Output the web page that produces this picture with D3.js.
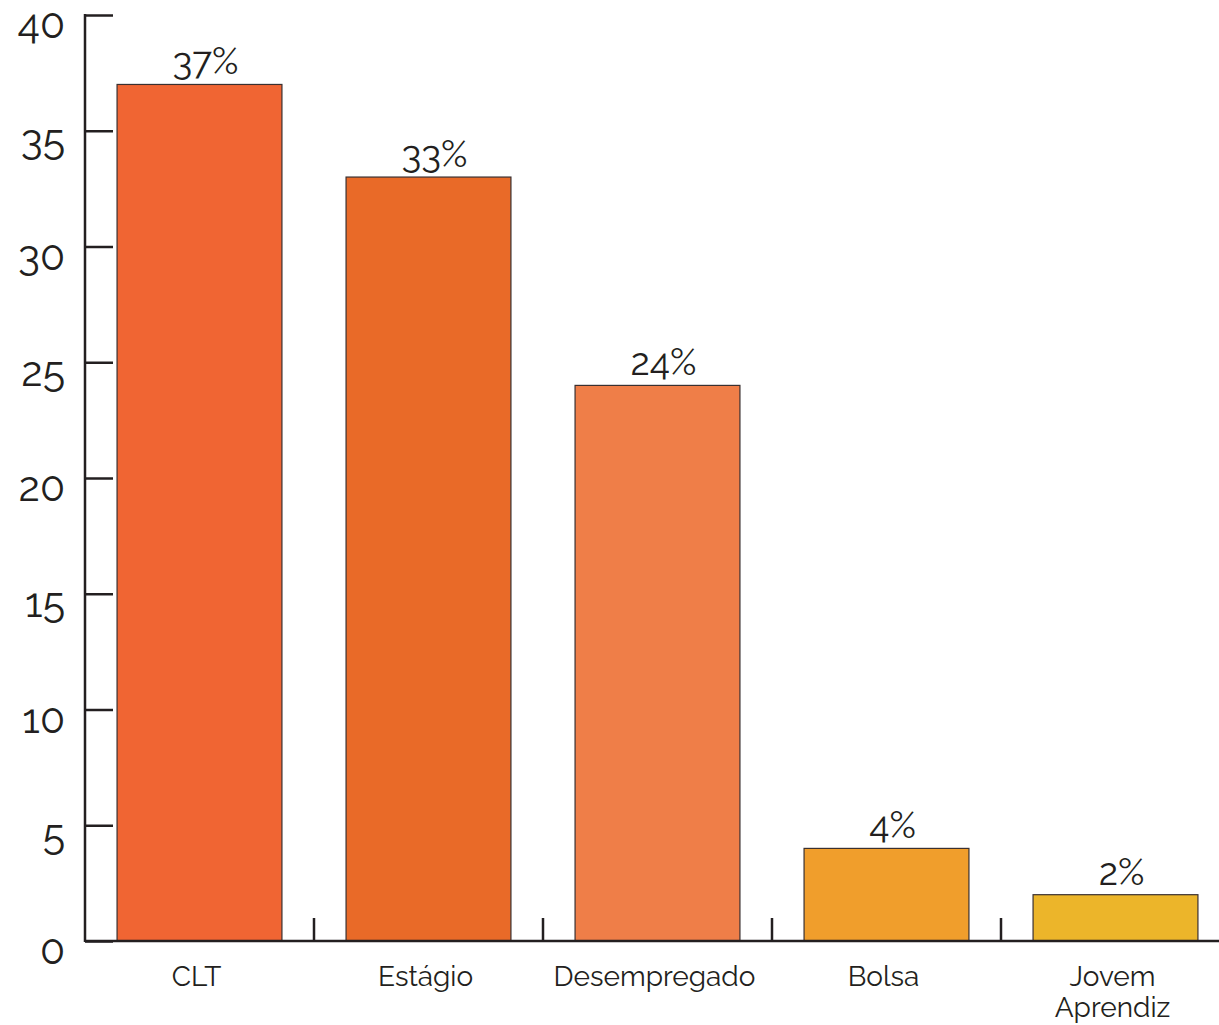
<!DOCTYPE html>
<html>
<head>
<meta charset="utf-8">
<script src="https://cdn.jsdelivr.net/npm/d3@7"></script>
<style>
  body { margin: 0; background: #fff; }
  text { font-family: Raleway, Lato, "Open Sans", sans-serif; fill: #231f20; }
</style>
</head>
<body>
<div id="chart"></div>
<script>
var categories = ["CLT", "Estágio", "Desempregado", "Bolsa", "Jovem Aprendiz"];
var values = [37, 33, 24, 4, 2];
var barColors = ["#f06533", "#e96a28", "#ef7e48", "#f09e2c", "#ecb52a"];
var yTicks = [0, 5, 10, 15, 20, 25, 30, 35, 40];

var width = 1219, height = 1025;
var margin = {top: 15, left: 85, bottom: 84};

var svg = d3.select("#chart").append("svg")
    .attr("width", width)
    .attr("height", height);

var x = d3.scaleBand()
    .domain(categories)
    .range([margin.left, margin.left + 229 * categories.length])
    .paddingInner(0.28)
    .paddingOuter(0.14);

var y = d3.scaleLinear()
    .domain([0, 40])
    .range([height - margin.bottom, margin.top]);

// bars
svg.append("g").selectAll("rect")
    .data(values)
    .enter().append("rect")
    .attr("x", function(d, i) { return x(categories[i]); })
    .attr("y", function(d) { return y(d); })
    .attr("width", x.bandwidth())
    .attr("height", function(d) { return y(0) - y(d); })
    .attr("fill", function(d, i) { return barColors[i]; })
    .attr("stroke", "#3a3030")
    .attr("stroke-width", 1.2);

// value labels
svg.append("g").selectAll("text")
    .data(values)
    .enter().append("text")
    .attr("x", function(d, i) { return x(categories[i]) + x.bandwidth() / 2 + 6; })
    .attr("y", function(d) { return y(d) - 10; })
    .attr("text-anchor", "middle")
    .style("font-size", "37px")
    .text(function(d) { return d + "%"; });

// y axis
var yAxis = svg.append("g")
    .attr("transform", "translate(" + margin.left + ",0)")
    .call(d3.axisLeft(y).tickValues(yTicks).tickSize(-28).tickPadding(20));

yAxis.select(".domain").remove();
yAxis.selectAll(".tick line")
    .attr("stroke", "#231f20")
    .attr("stroke-width", 2.5);
yAxis.selectAll(".tick text")
    .attr("dy", "0.56em")
    .attr("x", -20)
    .style("font-size", "41px")
    .attr("fill", "#231f20");

svg.append("line")
    .attr("x1", margin.left).attr("x2", margin.left)
    .attr("y1", y(40) - 1).attr("y2", y(0) + 1)
    .attr("stroke", "#231f20")
    .attr("stroke-width", 2.5);

// x axis baseline and separators
svg.append("line")
    .attr("x1", margin.left).attr("x2", width)
    .attr("y1", y(0)).attr("y2", y(0))
    .attr("stroke", "#231f20")
    .attr("stroke-width", 2.5);

var seps = categories.slice(1).map(function(c) { return x(c) - x.step() * x.paddingInner() / 2; });
svg.append("g").selectAll("line")
    .data(seps)
    .enter().append("line")
    .attr("x1", function(d) { return d; })
    .attr("x2", function(d) { return d; })
    .attr("y1", y(0))
    .attr("y2", y(0) - 23)
    .attr("stroke", "#231f20")
    .attr("stroke-width", 2.5);

// category labels
var catLabels = svg.append("g").selectAll("text")
    .data(categories)
    .enter().append("text")
    .attr("x", function(d) { return x(d) + x.bandwidth() / 2 - 3; })
    .attr("y", 986)
    .attr("text-anchor", "middle")
    .style("font-size", "28px");

catLabels.each(function(d) {
    var words = d === "Jovem Aprendiz" ? ["Jovem", "Aprendiz"] : [d];
    var t = d3.select(this);
    words.forEach(function(w, k) {
        t.append("tspan")
            .attr("x", t.attr("x"))
            .attr("dy", k === 0 ? 0 : 31)
            .text(w);
    });
});
</script>
</body>
</html>
